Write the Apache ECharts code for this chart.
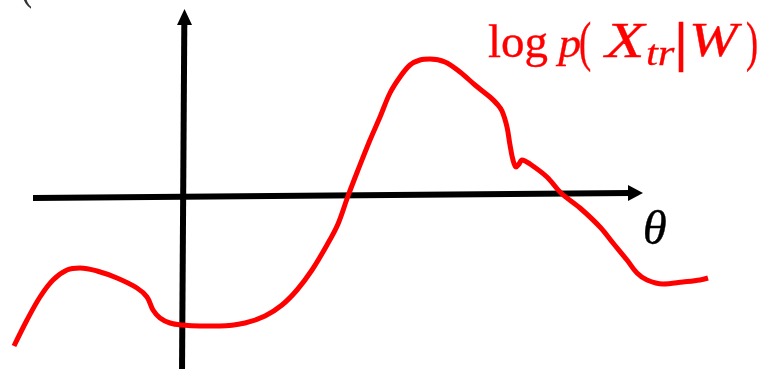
<!DOCTYPE html>
<html>
<head>
<meta charset="utf-8">
<script src="https://cdn.jsdelivr.net/npm/echarts@6/dist/echarts.min.js"></script>
<style>
  html, body { margin: 0; padding: 0; background: #ffffff; }
  #chart { width: 765px; height: 369px; }
</style>
</head>
<body>
<div id="chart"></div>
<script>
// Sketch of a log-likelihood curve over the parameter theta.
const theta = [-1.69, -1.56, -1.43, -1.30, -1.16, -1.03, -0.86, -0.66, -0.46, -0.36,
  -0.30, -0.23, -0.13, -0.01, 0.17, 0.37, 0.62, 0.82, 0.99, 1.14,
  1.29, 1.44, 1.55, 1.65, 1.75, 1.87, 1.97, 2.07, 2.17, 2.27,
  2.37, 2.47, 2.62, 2.77, 2.92, 3.07, 3.14, 3.19, 3.24, 3.27,
  3.30, 3.33, 3.36, 3.39, 3.47, 3.64, 3.78, 3.97, 4.17, 4.30,
  4.44, 4.54, 4.64, 4.80, 5.00, 5.17, 5.25];
const logLik = [-1.51, -1.25, -1.02, -0.85, -0.75, -0.73, -0.76, -0.83, -0.93, -1.02,
  -1.15, -1.23, -1.28, -1.30, -1.31, -1.31, -1.28, -1.21, -1.10, -0.95,
  -0.75, -0.50, -0.29, -0.01, 0.25, 0.55, 0.78, 1.02, 1.18, 1.30,
  1.35, 1.36, 1.33, 1.23, 1.10, 0.98, 0.91, 0.84, 0.68, 0.50,
  0.35, 0.28, 0.31, 0.35, 0.31, 0.18, 0.02, -0.13, -0.32, -0.48,
  -0.65, -0.78, -0.85, -0.89, -0.87, -0.85, -0.83];

// Hand-drawn axes: end points and arrow heads, in (theta, value) units.
const thetaAxisLine = [[-1.50, -0.03], [4.47, 0.02]];
const valueAxisLine = [[-0.01, -1.78], [0.013, 1.70]];
const thetaArrow = [4.525, 0.02];
const valueArrow = [0.015, 1.78];

// Labels.
const titlePieces = ['log', 'p', '(', 'X', 'tr', '|', 'W', ')'];
const titleStyles = ['normal', 'italic', 'normal', 'italic', 'italic', 'normal', 'italic', 'normal'];
const thetaLabel = 'θ';
const cornerMark = '(';

// Ink boxes [left, top, right, bottom] for each glyph group.
const titleBoxes = [
  [488, 24, 548, 67], [555, 36, 580, 67], [580, 22, 591, 72], [602, 24, 647, 57],
  [647, 44, 675, 65], [679, 22, 683, 72], [692, 24, 743, 57], [747, 22, 757, 72]
];
const thetaBox = [644, 210, 666, 244];
const cornerBox = [21, -38, 32, 9];

const measureCtx = document.createElement('canvas').getContext('2d');

// Text element stretched so its ink fills the given box; a thin outline
// in the same colour gives the strokes a little weight.
function fittedText(text, fontStyle, box, color, weight) {
  const size = 40;
  const family = '"Liberation Serif", "Times New Roman", serif';
  measureCtx.font = fontStyle + ' ' + size + 'px ' + family;
  measureCtx.textBaseline = 'middle';
  measureCtx.textAlign = 'left';
  const m = measureCtx.measureText(text);
  const inkW = m.actualBoundingBoxLeft + m.actualBoundingBoxRight;
  const inkH = m.actualBoundingBoxAscent + m.actualBoundingBoxDescent;
  const sx = (box[2] - box[0]) / inkW;
  const sy = (box[3] - box[1]) / inkH;
  return {
    type: 'text',
    silent: true,
    z: 20,
    x: box[0] + m.actualBoundingBoxLeft * sx,
    y: box[1] + m.actualBoundingBoxAscent * sy,
    scaleX: sx,
    scaleY: sy,
    style: {
      text: text,
      fill: color,
      stroke: weight > 0 ? color : null,
      lineWidth: weight,
      fontSize: size,
      fontFamily: family,
      fontStyle: fontStyle,
      align: 'left',
      verticalAlign: 'middle',
      textAlign: 'left',
      textVerticalAlign: 'middle'
    }
  };
}

const graphics = titlePieces.map(function (t, i) {
  return fittedText(t, titleStyles[i], titleBoxes[i], '#ff0000', 0.3);
});
graphics.push(fittedText(thetaLabel, 'italic', thetaBox, '#000000', 0.3));
graphics.push(fittedText(cornerMark, 'normal', cornerBox, '#333333', 0));

const chart = echarts.init(document.getElementById('chart'), null, { renderer: 'canvas' });

chart.setOption({
  animation: false,
  backgroundColor: '#ffffff',
  grid: { left: 0, right: 0, top: 0, bottom: 0, containLabel: false },
  xAxis: { type: 'value', min: -1.83, max: 5.82, show: false },
  yAxis: { type: 'value', min: -1.74, max: 1.95, show: false },
  graphic: graphics,
  series: [
    {
      type: 'line',
      data: thetaAxisLine,
      symbol: 'none',
      lineStyle: { color: '#000000', width: 6 },
      z: 2
    },
    {
      type: 'line',
      data: valueAxisLine,
      symbol: 'none',
      lineStyle: { color: '#000000', width: 6 },
      z: 2
    },
    {
      type: 'scatter',
      data: [thetaArrow],
      symbol: 'triangle',
      symbolSize: [16, 15],
      symbolRotate: -90,
      itemStyle: { color: '#000000', opacity: 1 },
      silent: true,
      z: 2
    },
    {
      type: 'scatter',
      data: [valueArrow],
      symbol: 'triangle',
      symbolSize: [15, 16],
      itemStyle: { color: '#000000', opacity: 1 },
      silent: true,
      z: 2
    },
    {
      type: 'line',
      data: theta.map(function (t, i) { return [t, logLik[i]]; }),
      symbol: 'none',
      smooth: 0.35,
      lineStyle: { color: '#ff0000', width: 5 },
      z: 5
    }
  ]
});
</script>
</body>
</html>
